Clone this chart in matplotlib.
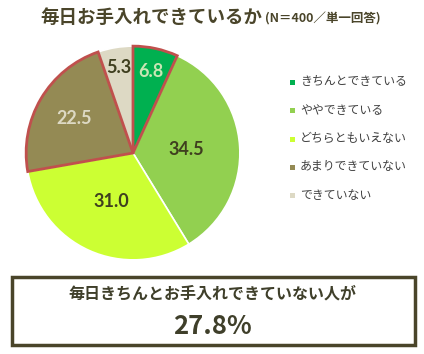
import matplotlib
matplotlib.use('Agg')
import matplotlib.pyplot as plt
import numpy as np
from matplotlib.patches import Rectangle

plt.rcParams['font.family'] = ['Noto Sans CJK JP', 'DejaVu Sans']

# data
categories = ["きちんとできている", "ややできている", "どちらともいえない", "あまりできていない", "できていない"]
values = [6.8, 34.5, 31.0, 22.5, 5.3]
colors = ["#00B050", "#92D050", "#CCFF33", "#948A54", "#DDD9C4"]
label_colors = ["#C8E6B4", "#3F3F1F", "#3F3F1F", "#DDD9C4", "#3F3F1F"]
highlight = [True, False, False, True, False]
label_radius = [0.78, 0.50, 0.50, 0.64, 0.81]
title = "毎日お手入れできているか"
subtitle = "(N＝400／単一回答)"
box_line1 = "毎日きちんとお手入れできていない人が"
box_line2 = "27.8%"

dark = "#4A452A"
W, H = 424, 354
fig = plt.figure(figsize=(W / 100, H / 100), dpi=100)

# pie
ax = fig.add_axes([24 / W, (H - 262) / H, 218 / W, 218 / H])
wedges, _ = ax.pie(values, colors=colors, startangle=90, counterclock=False,
                   radius=1, wedgeprops=dict(edgecolor="white", linewidth=1.2))
for w, hl in zip(wedges, highlight):
    if hl:
        w.set_edgecolor("#C0504D")
        w.set_linewidth(2)
        w.set_zorder(3)
for w, v, lc, lr in zip(wedges, values, label_colors, label_radius):
    ang = np.deg2rad((w.theta1 + w.theta2) / 2)
    ax.text(lr * np.cos(ang), lr * np.sin(ang), f"{v:.1f}", color=lc,
            ha="center", va="center", fontsize=13, fontweight="bold",
            family=["Lato", "DejaVu Sans"], zorder=5)
ax.set_xlim(-1.02, 1.02)
ax.set_ylim(-1.02, 1.02)
ax.set_aspect("equal")
ax.axis("off")

# title
fig.text(40 / W, 1 - 17 / H, title, fontsize=13.3, fontweight="bold",
         color=dark, ha="left", va="center")
fig.text(265 / W, 1 - 19 / H, subtitle, fontsize=9, fontweight="bold",
         color=dark, ha="left", va="center")

# legend
for i, (c, lab) in enumerate(zip(colors, categories)):
    y = 1 - (82 + i * 28.3) / H
    fig.patches.append(Rectangle((290 / W, y - 3 / H), 5 / W, 5 / H,
                                 transform=fig.transFigure, facecolor=c,
                                 edgecolor="none"))
    fig.text(300 / W, y, lab, fontsize=8.6, color="#404040", ha="left", va="center")

# summary box
fig.patches.append(Rectangle((12 / W, 1 - 345 / H), 403 / W, 68 / H,
                             transform=fig.transFigure, facecolor="white",
                             edgecolor=dark, linewidth=2.5))
fig.text(212 / W, 1 - 294 / H, box_line1, fontsize=11.5, fontweight="bold",
         color="#3F3F2A", ha="center", va="center")
fig.text(212 / W, 1 - 327 / H, box_line2, fontsize=18.5, fontweight="bold",
         color="#3F3F2A", ha="center", va="center")

fig.savefig("out.png", dpi=100)
